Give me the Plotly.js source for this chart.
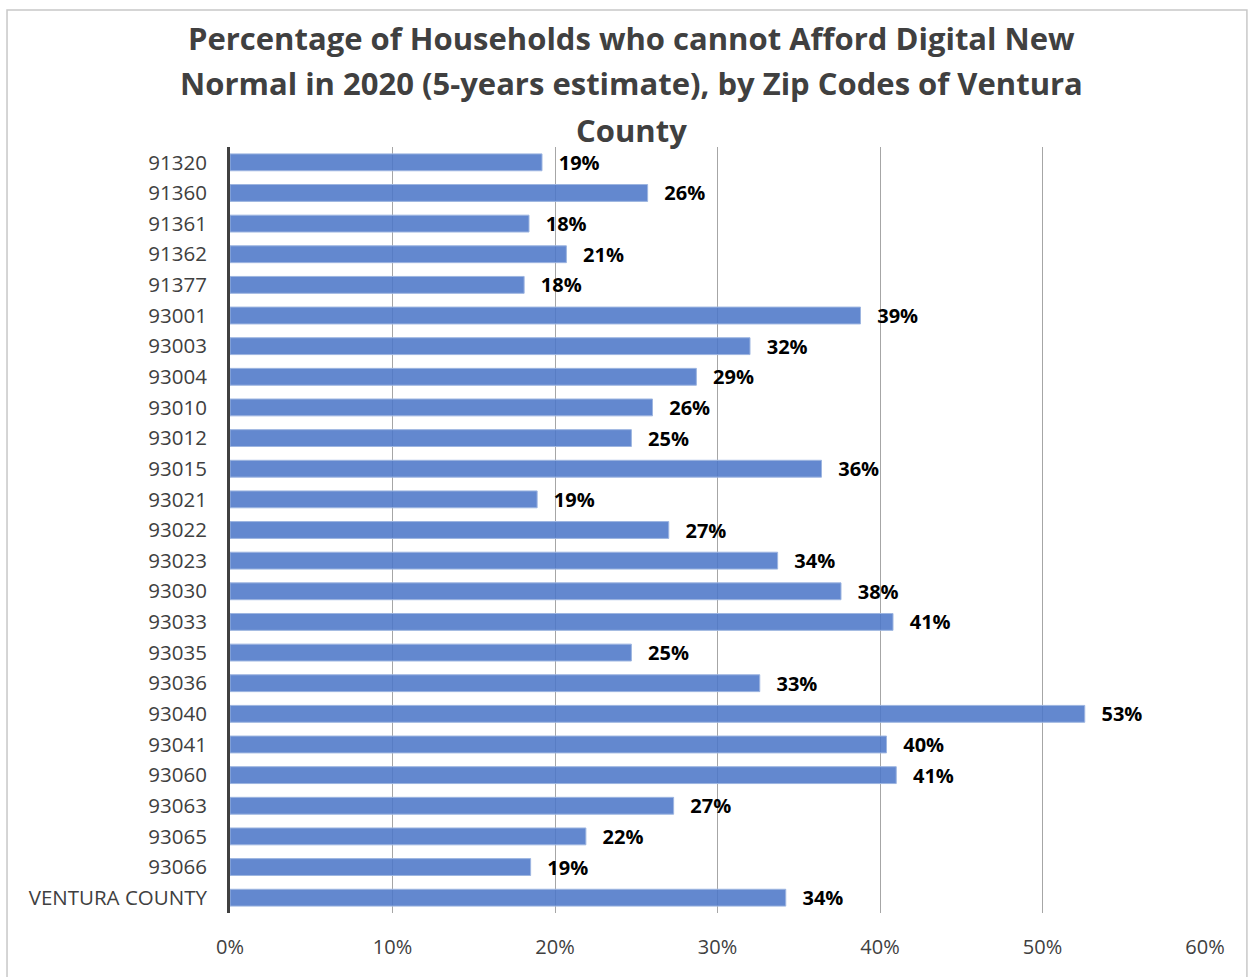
<!DOCTYPE html>
<html>
<head>
<meta charset="utf-8">
<script src="https://cdn.plot.ly/plotly-3.0.1.min.js"></script>
<style>html,body{margin:0;padding:0;background:#fff;}#chart{width:1252px;height:977px;}</style>
</head>
<body>
<div id="chart"></div>
<script>
const zipCodes = ["91320","91360","91361","91362","91377","93001","93003","93004","93010","93012","93015","93021","93022","93023","93030","93033","93035","93036","93040","93041","93060","93063","93065","93066","VENTURA COUNTY"];
const shareCannotAfford = [0.192,0.257,0.184,0.207,0.181,0.388,0.320,0.287,0.260,0.247,0.364,0.189,0.270,0.337,0.376,0.408,0.247,0.326,0.526,0.404,0.410,0.273,0.219,0.185,0.342];
const xTicks = [0,0.1,0.2,0.3,0.4,0.5,0.6];
const xTickLabels = ["0%","10%","20%","30%","40%","50%","60%"];
const titleLines = ["Percentage of Households who cannot Afford Digital New",
  "Normal in 2020 (5-years estimate), by Zip Codes of Ventura",
  "County"];

const font = "Open Sans, Noto Sans, sans-serif";
const trace = {
  type: "bar",
  orientation: "h",
  y: zipCodes,
  x: shareCannotAfford,
  marker: {color: "rgba(77,120,200,0.88)", line: {color: "#9db5e0", width: 1}},
  texttemplate: "\u00a0\u00a0\u2009%{x:.0%}",
  textposition: "outside",
  constraintext: "none",
  cliponaxis: false,
  textfont: {family: font, size: 20, color: "#000", weight: "bold"},
  hoverinfo: "x+y"
};

// plot area: y from 147px (paper 1) to 913px (paper 0)
const titleY = [1.1423, 1.0836, 1.0222];
const annotations = titleLines.map((t, i) => ({
  text: t, xref: "paper", yref: "paper", x: 0.412, y: titleY[i],
  xanchor: "center", yanchor: "middle", showarrow: false,
  font: {family: font, size: 31, color: "#404040", weight: "bold"}
}));

const layout = {
  width: 1252, height: 977,
  paper_bgcolor: "#fff", plot_bgcolor: "#fff",
  margin: {l: 230, r: 47, t: 147, b: 64},
  showlegend: false,
  bargap: 0.45,
  annotations: annotations,
  xaxis: {range: [0, 0.6], tickvals: xTicks, ticktext: xTickLabels,
    showgrid: true, gridcolor: "#a6a6a6", gridwidth: 1, zeroline: false,
    showline: false, ticks: "", ticklen: 0, ticklabelstandoff: 20,
    tickfont: {family: font, size: 20, color: "#404040"}, automargin: false},
  yaxis: {autorange: "reversed", type: "category", showgrid: false,
    showline: true, linecolor: "#404040", linewidth: 3, ticks: "",
    ticklabelstandoff: 16,
    tickfont: {family: font, size: 20.5, color: "#404040"}, automargin: false},
  shapes: [{type: "rect", xref: "paper", yref: "paper", x0: -0.2287, x1: 1.043, y0: -0.09, y1: 1.179,
    line: {color: "#c8c8c8", width: 1.5}, fillcolor: "rgba(0,0,0,0)", layer: "below"}]
};

Plotly.newPlot("chart", [trace], layout, {displayModeBar: false, staticPlot: true});
</script>
</body>
</html>
